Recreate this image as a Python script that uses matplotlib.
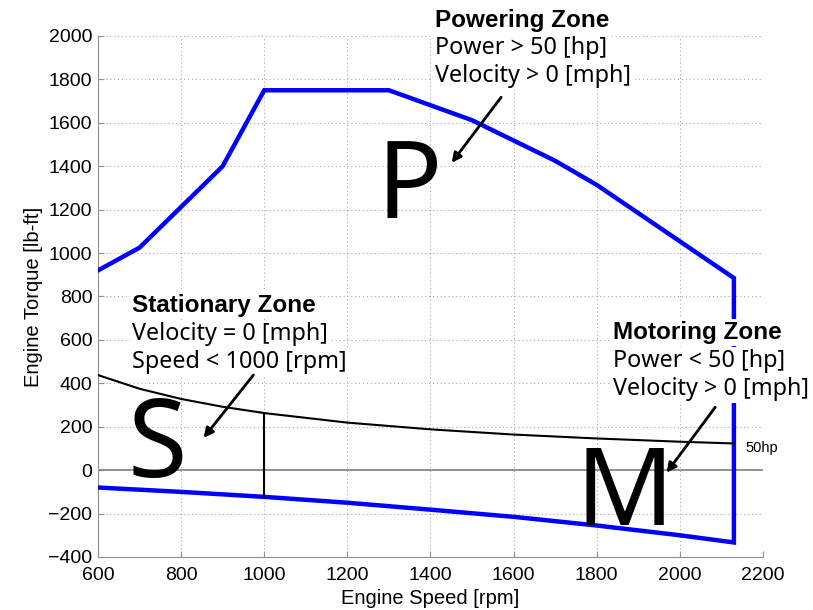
import matplotlib.pyplot as plt
import numpy as np

# max torque curve (upper envelope)
upper_rpm = [600, 700, 900, 1000, 1300, 1500, 1700, 1800, 2130]
upper_tq = [920, 1025, 1400, 1750, 1750, 1612, 1425, 1314, 885]

# motoring (friction) torque curve
lower_rpm = [600, 800, 1000, 1200, 1400, 1600, 1800, 2000, 2130]
lower_tq = [-80, -100, -123, -150, -182, -215, -255, -300, -333]

# 50 hp constant-power line
hp_rpm = [600, 700, 800, 900, 1000, 1200, 1400, 1600, 1800, 2000, 2130]
hp_tq = [438, 375, 328, 292, 263, 219, 188, 164, 146, 131, 123]

fig = plt.figure(figsize=(8.13, 6.10), dpi=100)
ax = fig.add_axes([0.1205, 0.0869, 0.818, 0.8541])

env_x = upper_rpm + lower_rpm[::-1]
env_y = upper_tq + lower_tq[::-1]
ax.plot(env_x, env_y, "-", color="#0000ff", linewidth=3.2, solid_joinstyle="miter", zorder=3)
ax.plot(hp_rpm, hp_tq, "-", color="black", linewidth=1.5, zorder=3)
ax.plot([1000, 1000], [lower_tq[2], hp_tq[4]], "-", color="black", linewidth=1.5, zorder=3)
ax.axhline(0, color="#808080", linewidth=1.2, zorder=2)

ax.set_xlim(600, 2200)
ax.set_ylim(-400, 2000)
ax.set_xticks(np.arange(600, 2201, 200))
ax.set_yticks(np.arange(-400, 2001, 200))
ax.grid(True, linestyle=(0, (1, 2.5)), color="#a8a8a8", linewidth=0.8)
for s in ["top", "right"]:
    ax.spines[s].set_visible(False)
for s in ["left", "bottom"]:
    ax.spines[s].set_color("#909090")
ax.tick_params(direction="in", length=4, color="#909090", labelsize=14)
ax.tick_params(axis="x", pad=7)
ax.tick_params(axis="y", pad=4)
for lab in ax.get_xticklabels() + ax.get_yticklabels():
    lab.set_family("Liberation Sans")
ax.set_xlabel("Engine Speed [rpm]", family="Liberation Sans", fontsize=14.5, labelpad=4)
ax.set_ylabel("Engine Torque [lb-ft]", family="Liberation Sans", fontsize=14.5, labelpad=4)

# zone letters
big = dict(family="Noto Sans", fontsize=78, ha="left", va="baseline", zorder=4)
ax.text(1270, 1162, "P", **big)
ax.text(672, -31, "S", **big)
ax.text(1748, -252, "M", **big)

ax.text(2157, 84, "50hp", family="Liberation Sans", fontsize=10.5, va="baseline")

box = dict(facecolor="white", edgecolor="none", pad=1.5)


def zone(x, ys, title, l1, l2):
    ax.text(x, ys[0], title, family="Liberation Sans", fontweight="bold", fontsize=17.5,
            va="baseline", bbox=box, zorder=5, clip_on=False)
    ax.text(x, ys[1], l1, family="Noto Sans", fontsize=16.8, va="baseline", bbox=box, zorder=5, clip_on=False)
    ax.text(x, ys[2], l2, family="Noto Sans", fontsize=16.8, va="baseline", bbox=box, zorder=5, clip_on=False)


zone(1411, [2041, 1917, 1788], "Powering Zone", "Power > 50 [hp]", "Velocity > 0 [mph]")
zone(682, [729, 600, 471], "Stationary Zone", "Velocity = 0 [mph]", "Speed < 1000 [rpm]")
zone(1839, [604, 475, 346], "Motoring Zone", "Power < 50 [hp]", "Velocity > 0 [mph]")

arr = dict(arrowstyle="-|>", color="black", linewidth=2, mutation_scale=14)
ax.annotate("", xy=(1447, 1406), xytext=(1574, 1728), arrowprops=arr, zorder=6)
ax.annotate("", xy=(850, 139), xytext=(978, 448), arrowprops=arr, zorder=6)
ax.annotate("", xy=(1964, -22), xytext=(2089, 300), arrowprops=arr, zorder=6)

fig.savefig("out.png", dpi=100)
